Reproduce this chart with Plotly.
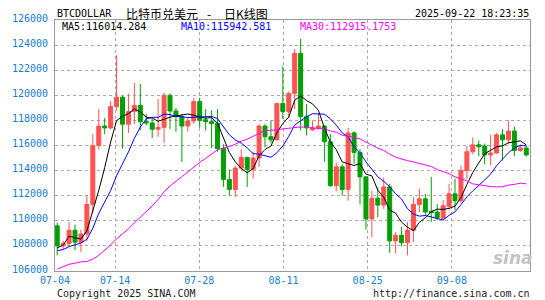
import plotly.graph_objects as go

# ---- data ----
dates = ["07-04","07-05","07-06","07-07","07-08","07-09","07-10","07-11","07-12","07-13",
         "07-14","07-15","07-16","07-17","07-18","07-19","07-20","07-21","07-22","07-23",
         "07-24","07-25","07-26","07-27","07-28","07-29","07-30","07-31","08-01","08-02",
         "08-03","08-04","08-05","08-06","08-07","08-08","08-09","08-10","08-11","08-12",
         "08-13","08-14","08-15","08-16","08-17","08-18","08-19","08-20","08-21","08-22",
         "08-23","08-24","08-25","08-26","08-27","08-28","08-29","08-30","08-31","09-01",
         "09-02","09-03","09-04","09-05","09-06","09-07","09-08","09-09","09-10","09-11",
         "09-12","09-13","09-14","09-15","09-16","09-17","09-18","09-19","09-20","09-21"]

opens = [109600,108000,108200,109250,108300,108950,111300,116000,117550,117400,
         119100,119850,117700,118700,119200,117900,117800,117300,117450,120000,
         118750,118300,117550,117950,119500,118050,117900,117750,115750,113300,
         112500,114200,115050,114100,115000,117550,116700,116450,119350,118700,
         120150,123350,118300,117250,117400,117550,116300,112800,114300,112500,
         117000,115450,113500,110150,111800,111250,112700,108400,108850,108250,
         109250,111300,111750,110750,110700,110200,111150,112150,111600,114000,
         115500,116050,115950,115250,115400,116850,116450,117150,115600,115800]
highs = [109850,108400,109900,109700,109300,112050,116900,118900,118200,119550,
         123200,119950,120100,121000,120900,118500,118100,119700,120200,120150,
         119000,118500,118200,119800,119800,118900,118800,118900,116100,114100,
         114400,115700,115100,115500,117700,117700,118000,119400,122300,120300,
         123700,124500,119300,118000,118550,117600,116900,114650,114500,117400,
         117150,115700,113550,112400,112650,113450,112950,109100,109500,109900,
         111900,112550,112150,113500,111350,111650,112950,113350,114400,115950,
         116650,116400,116150,116850,117000,117300,118000,117500,116100,116000]
lows = [107250,107750,108000,107650,107500,108400,110600,115700,116900,117300,
        118800,115750,117000,117700,117200,117600,116600,116700,116200,117300,
        117100,114700,117100,117700,117400,117200,115800,115500,112700,112000,
        111900,114100,112700,113350,114300,115850,116200,116400,118100,118200,
        118900,117200,116800,117150,117250,114700,112700,112350,112000,111600,
        114550,111300,109300,108700,110300,110950,107450,107400,107950,107250,
        108300,110700,110450,109900,110050,110100,110900,110850,111400,113350,
        115300,115150,114500,114400,115350,114800,116100,115150,115500,115100]
closes = [108000,108200,109250,108300,108950,111300,116000,117550,117400,119100,
          119850,117700,118700,119200,117900,117800,117300,117450,120000,118750,
          118300,117550,117950,119500,118000,117900,117750,115750,113300,112500,
          114200,115050,114100,115000,117550,116700,116450,119350,118700,120150,
          123350,118300,117400,117400,117550,116300,112800,114300,112500,117000,
          115450,113500,110150,111800,111250,112700,108400,108850,108250,109250,
          111300,111750,110700,110650,110250,111200,112150,111600,114000,115500,
          116050,115900,115250,115400,116850,116450,117150,115600,115800,115250]
# closes of the 29 days before the first candle (estimated so the MA lines start where the picture shows)
prior_closes = [101600,104400,105600,105800,110300,110300,108600,105700,106000,105400,
                105600,107000,104600,104900,104600,103300,102200,100900,105500,106000,
                107300,106900,107100,107300,108400,107100,105700,108800,109600]

ma_periods = [5, 10, 30]
ma_colors = ["#000000", "#0000ff", "#ff00ff"]
ma_header = ["MA5:116014.284", "MA10:115942.581", "MA30:112915.1753"]

y_ticks = list(range(106000, 126001, 2000))
tick_dates = ["07-04", "07-14", "07-28", "08-11", "08-25", "09-08"]

title_code = "BTCDOLLAR"
title_cn = "比特币兑美元"
title_dash = "-"
title_kind = "日K线图"
timestamp = "2025-09-22 18:23:35"
copyright_txt = "Copyright 2025 SINA.COM"
url_txt = "http://finance.sina.com.cn"

# ---- figure ----
n = len(dates)
xs = list(range(n))
all_closes = prior_closes + closes

def moving_average(period):
    out = []
    off = len(prior_closes)
    for i in range(n):
        w = all_closes[off + i - period + 1: off + i + 1]
        out.append(sum(w) / period)
    return out

UP = "#ff5252"
DOWN = "#00a000"
MONO = "DejaVu Sans Mono"
TICKBLUE = "#1580d0"

fig = go.Figure()
fig.add_trace(go.Candlestick(
    x=xs, open=opens, high=highs, low=lows, close=closes,
    increasing=dict(line=dict(color=UP, width=1), fillcolor=UP),
    decreasing=dict(line=dict(color=DOWN, width=1), fillcolor=DOWN),
    whiskerwidth=0, showlegend=False, hoverinfo="skip"))

for p, c in zip(ma_periods, ma_colors):
    fig.add_trace(go.Scatter(x=xs, y=moving_average(p), mode="lines",
                             line=dict(color=c, width=1), showlegend=False,
                             hoverinfo="skip"))

x_lo, x_hi = -0.37, 79.63
grid_pos = [x_lo + dates.index(d) * (x_hi - x_lo) / (n - 1) for d in tick_dates]

L, R, T, B = 50, 15, 18, 29
W, H = 545, 300
PW, PH = W - L - R, H - T - B

def px(x):
    return (x - L) / PW

def py(y):
    return (H - B - y) / PH

ann = []
def add_text(text, x, y, xanchor="left", color="#000000", size=10, family=MONO, **kw):
    ann.append(dict(text=text, x=px(x), y=py(y), xref="paper", yref="paper",
                    xanchor=xanchor, yanchor="middle", showarrow=False,
                    font=dict(family=family, size=size, color=color, **kw)))

add_text(title_code, 50, 11)
add_text(title_cn, 120, 11, size=12, family="Noto Sans CJK SC")
add_text(title_dash, 205.5, 11, xanchor="center", size=12, family="Noto Sans CJK SC")
add_text(title_kind, 219, 11, size=12, family="Noto Sans CJK SC")
add_text(timestamp, 531, 11, xanchor="right")
add_text(ma_header[0], 55, 25, color=ma_colors[0])
add_text(ma_header[1], 175.5, 25, color=ma_colors[1])
add_text(ma_header[2], 296, 25, color=ma_colors[2])
add_text(copyright_txt, 50, 294, color="#222222")
add_text(url_txt, 532, 294, xanchor="right", color="#222222")
add_text("sina", 513, 258, xanchor="center", color="#c4c4c4", size=17,
         family="DejaVu Sans", weight="bold", style="italic")

fig.update_layout(
    width=W, height=H,
    margin=dict(l=L, r=R, t=T, b=B, pad=0),
    paper_bgcolor="white", plot_bgcolor="white",
    boxgap=0.33, boxgroupgap=0,
    hovermode=False,
    annotations=ann,
    xaxis=dict(range=[x_lo, x_hi], tickvals=grid_pos, ticktext=tick_dates,
               showgrid=True, gridcolor="#aaaaaa", griddash="dot", gridwidth=1,
               showline=True, linecolor="#999999", linewidth=1, mirror=True,
               zeroline=False, ticks="", rangeslider=dict(visible=False),
               tickfont=dict(family=MONO, size=10, color=TICKBLUE)),
    yaxis=dict(range=[106000, 126000], tickvals=y_ticks,
               ticktext=[str(v) for v in y_ticks],
               showgrid=True, gridcolor="#aaaaaa", griddash="dot", gridwidth=1,
               showline=True, linecolor="#999999", linewidth=1, mirror=True,
               zeroline=False, ticks="", ticklabelstandoff=4, ticklabelshift=-2,
               tickfont=dict(family=MONO, size=10, color=TICKBLUE)),
)

fig.write_html("out.html", config={"displayModeBar": False})
